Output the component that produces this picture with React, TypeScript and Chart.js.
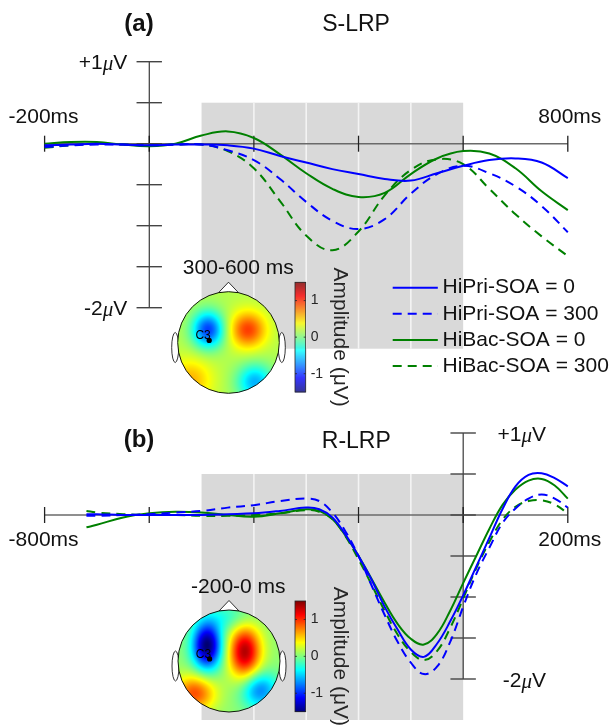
import React, { useEffect, useRef } from "react";
import { Chart, registerables } from "chart.js";

Chart.register(...registerables);

const WIDTH = 614;
const HEIGHT = 725;

// ---------- shared series info ----------
const seriesLabels = ["HiPri-SOA = 0", "HiPri-SOA = 300", "HiBac-SOA = 0", "HiBac-SOA = 300"];
const seriesColors = ["#0000ff", "#0000ff", "#008000", "#008000"];
const seriesDashed = [false, true, false, true];

// ---------- panel (a): S-LRP ----------
const timeA = [-200, -150, -100, -50, 0, 50, 100, 150, 200, 250, 300, 350, 400, 450, 500, 550, 600, 650, 700, 750, 800];
const hiPri0A = [-0.02, -0.01, 0, -0.01, -0.02, -0.01, -0.01, -0.02, -0.06, -0.15, -0.23, -0.31, -0.37, -0.43, -0.45, -0.36, -0.27, -0.2, -0.18, -0.23, -0.42];
const hiPri300A = [-0.04, -0.02, -0.01, -0.01, -0.02, -0.01, -0.01, -0.08, -0.2, -0.43, -0.71, -0.94, -1.04, -0.92, -0.61, -0.37, -0.27, -0.36, -0.52, -0.76, -1.08];
const hiBac0A = [0, 0.02, 0.02, -0.01, -0.03, 0, 0.1, 0.15, 0.07, -0.13, -0.36, -0.55, -0.65, -0.6, -0.37, -0.18, -0.09, -0.12, -0.3, -0.58, -0.81];
const hiBac300A = [-0.05, -0.02, 0, -0.01, -0.02, -0.01, -0.01, -0.09, -0.3, -0.7, -1.12, -1.3, -1.07, -0.63, -0.32, -0.19, -0.25, -0.55, -0.86, -1.13, -1.37];
const xTicksA = [-200, 0, 200, 400, 600, 800];
const xEndLabelsA = ["-200ms", "800ms"];
const shadeA = [100, 600];
const shadeLinesA = [200, 300, 400, 500];
const topoTitleA = "300-600 ms";
const topoBaseA = 0.15;
const topoSourcesA = [
  { u: -0.4, v: -0.25, su: 0.22, sv: 0.25, a: -1.1 },
  { u: 0.38, v: -0.25, su: 0.25, sv: 0.25, a: 0.8 },
  { u: -0.75, v: 0.74, su: 0.3, sv: 0.3, a: 0.45 },
  { u: 0.52, v: 0.78, su: 0.25, sv: 0.25, a: -0.75 },
];

// ---------- panel (b): R-LRP ----------
const timeB = [-720, -700, -650, -600, -550, -500, -450, -400, -350, -300, -275, -250, -225, -200, -175, -150, -125, -100, -75, -50, -25, 0, 25, 50, 75, 100, 125, 150, 175, 200];
const hiPri0B = [0.01, 0.01, 0, 0, 0, 0, 0.01, 0.02, 0.05, 0.09, 0.07, -0.03, -0.24, -0.5, -0.79, -1.12, -1.4, -1.64, -1.73, -1.57, -1.3, -0.98, -0.63, -0.28, 0.07, 0.35, 0.49, 0.51, 0.45, 0.35];
const hiPri300B = [-0.01, -0.01, 0, 0.01, 0.03, 0.05, 0.09, 0.12, 0.17, 0.2, 0.17, 0.03, -0.2, -0.5, -0.86, -1.22, -1.55, -1.8, -1.94, -1.85, -1.55, -1.12, -0.72, -0.4, -0.1, 0.08, 0.2, 0.25, 0.2, 0.09];
const hiBac0B = [-0.15, -0.12, -0.03, 0.02, 0.04, 0.03, 0, -0.02, 0.02, 0.07, 0.05, -0.05, -0.25, -0.5, -0.78, -1.07, -1.33, -1.51, -1.58, -1.45, -1.17, -0.83, -0.5, -0.17, 0.12, 0.31, 0.42, 0.44, 0.36, 0.2];
const hiBac300B = [0.05, 0.03, 0.01, 0, 0, -0.01, -0.01, 0, 0.02, 0.06, 0.04, -0.05, -0.26, -0.54, -0.85, -1.17, -1.46, -1.67, -1.77, -1.66, -1.38, -1.02, -0.65, -0.33, -0.06, 0.1, 0.17, 0.18, 0.13, 0.02];
const xTicksB = [-800, -600, -400, -200, 0, 200];
const xEndLabelsB = ["-800ms", "200ms"];
const shadeB = [-500, 0];
const shadeLinesB = [-400, -300, -200, -100];
const topoTitleB = "-200-0 ms";
const topoBaseB = 0.05;
const topoSourcesB = [
  { u: -0.43, v: -0.3, su: 0.2, sv: 0.32, a: -1.6 },
  { u: 0.31, v: -0.18, su: 0.22, sv: 0.36, a: 1.3 },
  { u: -0.67, v: 0.63, su: 0.28, sv: 0.25, a: 0.85 },
  { u: 0.6, v: 0.57, su: 0.25, sv: 0.25, a: -0.8 },
  { u: 0, v: -0.85, su: 0.35, sv: 0.2, a: -0.3 },
];

// ---------- shared axis values ----------
const yTicks = [1, 0.5, 0, -0.5, -1, -1.5, -2];
const yRange = [-2.5, 1];
const shadeY = [0.5, -2.5];
const colorbarTicks = [1, 0, -1];
const colorRange = [-1.5, 1.5];
const yTopLabel = "+1";
const yBottomLabel = "-2";

const SANS = '"Liberation Sans", Arial, Helvetica, sans-serif';
const SERIF = '"Liberation Serif", "Times New Roman", serif';
const TEXT = "#111111";
const DASH = [9, 6];

type Src = { u: number; v: number; su: number; sv: number; a: number };
type PanelCfg = {
  id: string;
  tag: string;
  title: string;
  time: number[];
  series: number[][];
  xMin: number;
  xMax: number;
  xTicks: number[];
  endLabels: string[];
  endLabelDy: number;
  shade: number[];
  shadeLines: number[];
  yLabelRight: number;
  tagPos: number[];
  titlePos: number[];
  legend: boolean;
  topo: {
    title: string;
    titlePos: number[];
    cx: number;
    cy: number;
    r: number;
    base: number;
    sources: Src[];
    bar: number[]; // x, top, width, bottom
  };
  padding: { left: number; right: number; top: number; bottom: number };
};

function jet(t: number): number[] {
  const c = (v: number) => Math.max(0, Math.min(1, v));
  return [c(1.5 - Math.abs(4 * t - 3)) * 255, c(1.5 - Math.abs(4 * t - 2)) * 255, c(1.5 - Math.abs(4 * t - 1)) * 255];
}

function drawMicroLabel(ctx: CanvasRenderingContext2D, prefix: string, right: number, y: number) {
  const f1 = `21px ${SANS}`;
  const f2 = `italic 21px ${SERIF}`;
  ctx.font = f1;
  const w1 = ctx.measureText(prefix).width;
  const w3 = ctx.measureText("V").width;
  ctx.font = f2;
  const w2 = ctx.measureText("\u03bc").width;
  let x = right - (w1 + w2 + w3);
  ctx.textAlign = "left";
  ctx.textBaseline = "middle";
  ctx.fillStyle = TEXT;
  ctx.font = f1;
  ctx.fillText(prefix, x, y);
  x += w1;
  ctx.font = f2;
  ctx.fillText("\u03bc", x, y + 1);
  x += w2;
  ctx.font = f1;
  ctx.fillText("V", x, y);
}

function drawTopo(ctx: CanvasRenderingContext2D, topo: PanelCfg["topo"]) {
  const { cx, cy, r, base, sources } = topo;
  ctx.save();
  // title
  ctx.fillStyle = TEXT;
  ctx.font = `21px ${SANS}`;
  ctx.textAlign = "center";
  ctx.textBaseline = "middle";
  ctx.fillText(topo.title, topo.titlePos[0], topo.titlePos[1]);
  // nose
  ctx.lineWidth = 0.8;
  ctx.strokeStyle = "#000";
  ctx.fillStyle = "#fff";
  ctx.beginPath();
  ctx.moveTo(cx - 10, cy - r + 1);
  ctx.lineTo(cx, cy - r - 9.5);
  ctx.lineTo(cx + 10, cy - r + 1);
  ctx.closePath();
  ctx.fill();
  ctx.stroke();
  // ears
  [-1, 1].forEach((s) => {
    ctx.beginPath();
    ctx.ellipse(cx + s * (r + 2.5), cy + 5, 3.5, 15, 0, 0, Math.PI * 2);
    ctx.fill();
    ctx.stroke();
  });
  // map
  const size = Math.ceil(2 * r) + 4;
  const off = document.createElement("canvas");
  off.width = size;
  off.height = size;
  const octx = off.getContext("2d")!;
  const img = octx.createImageData(size, size);
  const ox = Math.round(cx - size / 2);
  const oy = Math.round(cy - size / 2);
  for (let j = 0; j < size; j++) {
    for (let i = 0; i < size; i++) {
      const px = ox + i + 0.5;
      const py = oy + j + 0.5;
      const dx = px - cx;
      const dy = py - cy;
      const d = Math.sqrt(dx * dx + dy * dy);
      const alpha = Math.max(0, Math.min(1, r - d + 0.5));
      if (alpha <= 0) continue;
      const u = dx / r;
      const v = dy / r;
      let val = base;
      for (const s of sources) {
        const eu = (u - s.u) / s.su;
        const ev = (v - s.v) / s.sv;
        val += s.a * Math.exp(-0.5 * (eu * eu + ev * ev));
      }
      const t = (val - colorRange[0]) / (colorRange[1] - colorRange[0]);
      const c = jet(t);
      const k = (j * size + i) * 4;
      img.data[k] = c[0];
      img.data[k + 1] = c[1];
      img.data[k + 2] = c[2];
      img.data[k + 3] = alpha * 255;
    }
  }
  octx.putImageData(img, 0, 0);
  ctx.drawImage(off, ox, oy);
  ctx.beginPath();
  ctx.arc(cx, cy, r, 0, Math.PI * 2);
  ctx.strokeStyle = "#000";
  ctx.lineWidth = 0.9;
  ctx.stroke();
  // electrode C3
  ctx.fillStyle = "#000";
  ctx.beginPath();
  ctx.arc(cx - 0.38 * r, cy - 0.04 * r, 2.6, 0, Math.PI * 2);
  ctx.fill();
  ctx.font = `12px ${SANS}`;
  ctx.textAlign = "center";
  ctx.textBaseline = "middle";
  ctx.fillText("C3", cx - 0.5 * r, cy - 0.13 * r);
  // colorbar
  const [bx, btop, bw, bbot] = topo.bar;
  const bh = bbot - btop;
  for (let y = 0; y < bh; y++) {
    const val = colorRange[1] - ((y + 0.5) / bh) * (colorRange[1] - colorRange[0]);
    const c = jet((val - colorRange[0]) / (colorRange[1] - colorRange[0]));
    ctx.fillStyle = `rgb(${c[0] | 0},${c[1] | 0},${c[2] | 0})`;
    ctx.fillRect(bx, btop + y, bw, 1);
  }
  ctx.strokeStyle = "#262626";
  ctx.lineWidth = 0.8;
  ctx.strokeRect(bx, btop, bw, bh);
  ctx.font = `14px ${SANS}`;
  ctx.textAlign = "left";
  ctx.textBaseline = "middle";
  colorbarTicks.forEach((tv) => {
    const y = btop + ((colorRange[1] - tv) / (colorRange[1] - colorRange[0])) * bh;
    ctx.beginPath();
    ctx.moveTo(bx + bw - 2, y);
    ctx.lineTo(bx + bw, y);
    ctx.moveTo(bx, y);
    ctx.lineTo(bx + 2, y);
    ctx.stroke();
    ctx.fillStyle = "#262626";
    ctx.fillText(String(tv), bx + bw + 5, y);
  });
  // colorbar label, rotated
  ctx.save();
  ctx.translate(bx + bw + 34, (btop + bbot) / 2);
  ctx.rotate(Math.PI / 2);
  ctx.font = `21px ${SANS}`;
  ctx.textAlign = "center";
  ctx.textBaseline = "middle";
  ctx.fillStyle = "#262626";
  ctx.fillText("Amplitude (\u03bcV)", 0, 0);
  ctx.restore();
  ctx.restore();
}

function makePlugin(p: PanelCfg) {
  return {
    id: "panel-" + p.id,
    beforeDatasetsDraw(chart: any) {
      const ctx: CanvasRenderingContext2D = chart.ctx;
      const xs = chart.scales.x;
      const ys = chart.scales.y;
      ctx.save();
      // shaded window
      const sx0 = xs.getPixelForValue(p.shade[0]);
      const sx1 = xs.getPixelForValue(p.shade[1]);
      const sy0 = ys.getPixelForValue(shadeY[0]);
      const sy1 = ys.getPixelForValue(shadeY[1]);
      ctx.fillStyle = "#d9d9d9";
      ctx.fillRect(sx0, sy0, sx1 - sx0, sy1 - sy0);
      ctx.strokeStyle = "#f4f4f4";
      ctx.lineWidth = 1.6;
      p.shadeLines.forEach((t) => {
        const x = xs.getPixelForValue(t);
        ctx.beginPath();
        ctx.moveTo(x, sy0);
        ctx.lineTo(x, sy1);
        ctx.stroke();
      });
      // x axis
      const y0 = ys.getPixelForValue(0);
      ctx.strokeStyle = "#6a6a6a";
      ctx.lineWidth = 1.6;
      ctx.beginPath();
      ctx.moveTo(xs.getPixelForValue(p.xMin), y0);
      ctx.lineTo(xs.getPixelForValue(p.xMax), y0);
      ctx.stroke();
      ctx.strokeStyle = "#222";
      ctx.lineWidth = 1.3;
      p.xTicks.forEach((t) => {
        const x = xs.getPixelForValue(t);
        ctx.beginPath();
        ctx.moveTo(x, y0 - 8);
        ctx.lineTo(x, y0 + 8);
        ctx.stroke();
      });
      // y axis at time 0
      const x0 = xs.getPixelForValue(0);
      ctx.strokeStyle = "#111";
      ctx.lineWidth = 1;
      ctx.beginPath();
      ctx.moveTo(x0, ys.getPixelForValue(yTicks[0]));
      ctx.lineTo(x0, ys.getPixelForValue(yTicks[yTicks.length - 1]));
      ctx.stroke();
      ctx.strokeStyle = "#444";
      ctx.lineWidth = 1.4;
      yTicks.forEach((v) => {
        const y = ys.getPixelForValue(v);
        ctx.beginPath();
        ctx.moveTo(x0 - 12.7, y);
        ctx.lineTo(x0 + 12.7, y);
        ctx.stroke();
      });
      ctx.restore();
    },
    afterDatasetsDraw(chart: any) {
      const ctx: CanvasRenderingContext2D = chart.ctx;
      const xs = chart.scales.x;
      const ys = chart.scales.y;
      ctx.save();
      ctx.fillStyle = TEXT;
      ctx.textBaseline = "middle";
      // panel tag and title
      ctx.textAlign = "center";
      ctx.font = `bold 24px ${SANS}`;
      ctx.fillText(p.tag, p.tagPos[0], p.tagPos[1]);
      ctx.font = `23px ${SANS}`;
      ctx.fillText(p.title, p.titlePos[0], p.titlePos[1]);
      // x end labels
      const y0 = ys.getPixelForValue(0);
      ctx.font = `21px ${SANS}`;
      ctx.fillText(p.endLabels[0], xs.getPixelForValue(p.xMin) - 1, y0 + p.endLabelDy);
      ctx.fillText(p.endLabels[1], xs.getPixelForValue(p.xMax) + 2, y0 + p.endLabelDy);
      // y labels
      drawMicroLabel(ctx, yTopLabel, p.yLabelRight, ys.getPixelForValue(yTicks[0]) + 2);
      drawMicroLabel(ctx, yBottomLabel, p.yLabelRight, ys.getPixelForValue(yTicks[yTicks.length - 1]) + 2);
      // legend
      if (p.legend) {
        chart.data.datasets.forEach((ds: any, k: number) => {
          const y = 287.7 + k * 26.1;
          ctx.strokeStyle = ds.borderColor;
          ctx.lineWidth = 2;
          ctx.setLineDash(ds.borderDash || []);
          ctx.beginPath();
          ctx.moveTo(392.7, y);
          ctx.lineTo(437.8, y);
          ctx.stroke();
          ctx.setLineDash([]);
          ctx.fillStyle = TEXT;
          ctx.font = `21px ${SANS}`;
          ctx.textAlign = "left";
          ctx.fillText(ds.label, 442.5, y);
        });
      }
      ctx.restore();
      drawTopo(ctx, p.topo);
    },
  };
}

const panelA: PanelCfg = {
  id: "a",
  tag: "(a)",
  title: "S-LRP",
  time: timeA,
  series: [hiPri0A, hiPri300A, hiBac0A, hiBac300A],
  xMin: -200,
  xMax: 800,
  xTicks: xTicksA,
  endLabels: xEndLabelsA,
  endLabelDy: -26,
  shade: shadeA,
  shadeLines: shadeLinesA,
  yLabelRight: 127.3,
  tagPos: [139, 24],
  titlePos: [356, 25],
  legend: true,
  topo: {
    title: topoTitleA,
    titlePos: [238.3, 268.3],
    cx: 228.5,
    cy: 342.5,
    r: 50.8,
    base: topoBaseA,
    sources: topoSourcesA,
    bar: [295, 282.3, 10.7, 392],
  },
  padding: { left: 44.6, right: 46.2, top: 61.7, bottom: 376.3 },
};

const panelB: PanelCfg = {
  id: "b",
  tag: "(b)",
  title: "R-LRP",
  time: timeB,
  series: [hiPri0B, hiPri300B, hiBac0B, hiBac300B],
  xMin: -800,
  xMax: 200,
  xTicks: xTicksB,
  endLabels: xEndLabelsB,
  endLabelDy: 25,
  shade: shadeB,
  shadeLines: shadeLinesB,
  yLabelRight: 546,
  tagPos: [139, 440],
  titlePos: [356.3, 441.7],
  legend: false,
  topo: {
    title: topoTitleB,
    titlePos: [238.3, 587.3],
    cx: 229,
    cy: 661,
    r: 51,
    base: topoBaseB,
    sources: topoSourcesB,
    bar: [295, 601, 10.7, 711.7],
  },
  padding: { left: 44.6, right: 46.2, top: 433, bottom: 5 },
};

function makeChart(canvas: HTMLCanvasElement, p: PanelCfg) {
  return new Chart(canvas, {
    type: "line",
    data: {
      datasets: p.series.map((vals, k) => ({
        label: seriesLabels[k],
        data: p.time.map((t, i) => ({ x: t, y: vals[i] })),
        borderColor: seriesColors[k],
        backgroundColor: seriesColors[k],
        borderWidth: 2,
        borderDash: seriesDashed[k] ? DASH : [],
        pointRadius: 0,
        tension: 0.4,
        fill: false,
        clip: false,
      })),
    },
    options: {
      responsive: false,
      animation: false,
      devicePixelRatio: 1,
      events: [],
      layout: { padding: p.padding },
      plugins: {
        legend: { display: false },
        tooltip: { enabled: false },
        title: { display: false },
      },
      scales: {
        x: { type: "linear", min: p.xMin, max: p.xMax, display: false },
        y: { type: "linear", min: yRange[0], max: yRange[1], display: false },
      },
    },
    plugins: [makePlugin(p)],
  } as any);
}

export default function App() {
  const refA = useRef<HTMLCanvasElement>(null);
  const refB = useRef<HTMLCanvasElement>(null);
  useEffect(() => {
    const a = makeChart(refA.current!, panelA);
    const b = makeChart(refB.current!, panelB);
    return () => {
      a.destroy();
      b.destroy();
    };
  }, []);
  const canvasStyle: React.CSSProperties = { position: "absolute", left: 0, top: 0, width: WIDTH, height: HEIGHT };
  return (
    <div style={{ position: "fixed", left: 0, top: 0, width: WIDTH, height: HEIGHT, background: "#fff", overflow: "hidden" }}>
      <canvas ref={refA} width={WIDTH} height={HEIGHT} style={canvasStyle} />
      <canvas ref={refB} width={WIDTH} height={HEIGHT} style={canvasStyle} />
    </div>
  );
}
